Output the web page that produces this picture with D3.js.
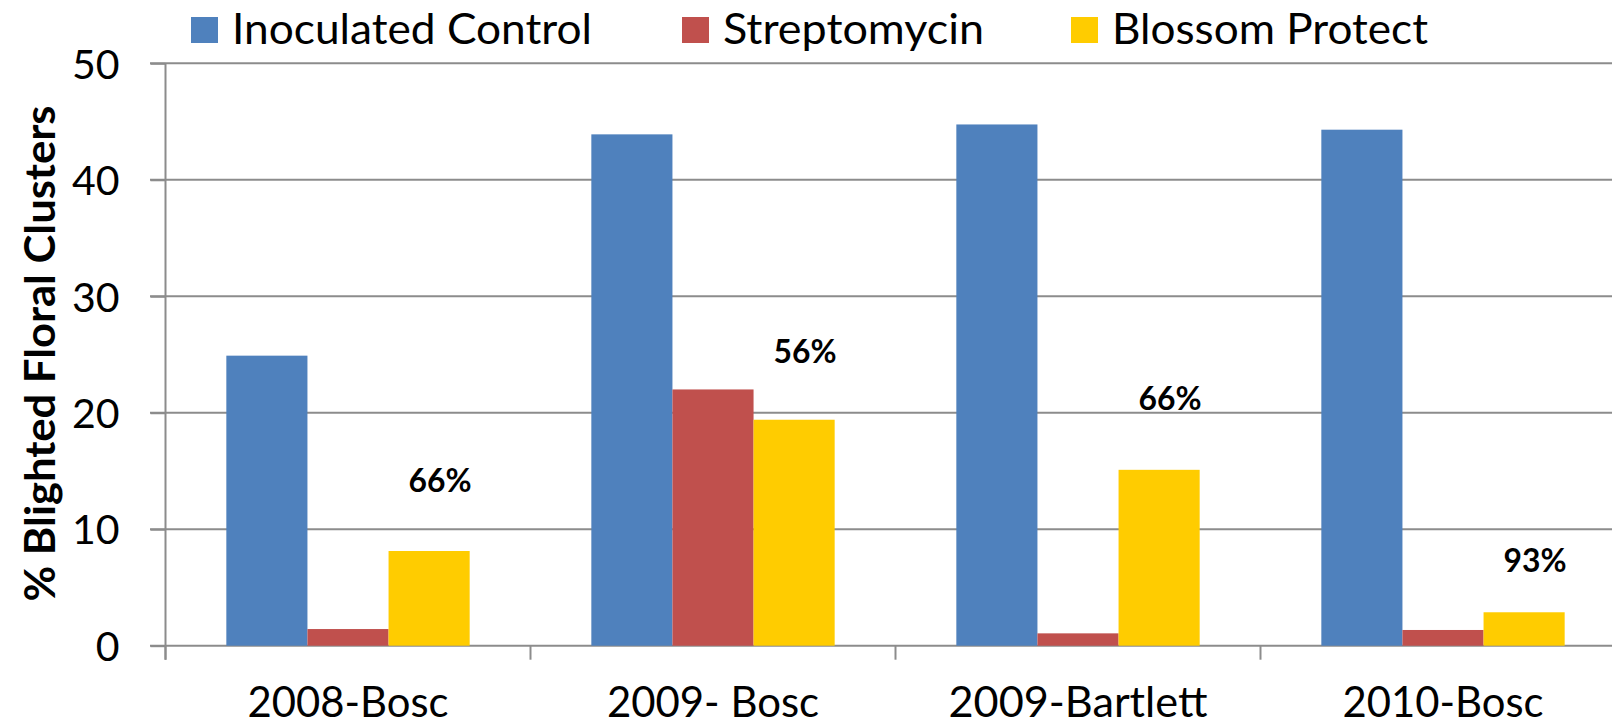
<!DOCTYPE html>
<html>
<head>
<meta charset="utf-8">
<script src="https://cdn.jsdelivr.net/npm/d3@7"></script>
<style>
  html, body { margin: 0; padding: 0; background: #fff; }
  svg { display: block; }
  text { font-family: Lato, "Open Sans", "Liberation Sans", sans-serif; fill: #000; }
</style>
</head>
<body>
<svg id="chart" width="1612" height="728"></svg>
<script>
// ---- data ----
const categories = ["2008-Bosc", "2009- Bosc", "2009-Bartlett", "2010-Bosc"];
const seriesNames = ["Inoculated Control", "Streptomycin", "Blossom Protect"];
const inoculatedControl = [24.9, 43.9, 44.75, 44.3];
const streptomycin = [1.43, 22.0, 1.06, 1.35];
const blossomProtect = [8.13, 19.4, 15.1, 2.87];
const reductionLabels = ["66%", "56%", "66%", "93%"];
const reductionLabelLevel = [13.2, 24.3, 20.2, 6.3]; // label baseline in axis units
const yTicks = [0, 10, 20, 30, 40, 50];

// ---- layout / style ----
const colors = ["#4F81BD", "#C0504D", "#FFCC00"];
const gridColor = "#8c8c8c";
const svg = d3.select("#chart");

const x0 = 165.5, bandW = 365;
const x = d3.scaleBand().domain(categories).range([x0, x0 + bandW * categories.length]).paddingInner(0).paddingOuter(0);
const xs = d3.scaleBand().domain(seriesNames).range([0, x.bandwidth()]).paddingInner(0).paddingOuter(0.75);
const y = d3.scaleLinear().domain([0, 50]).range([645.7, 63.3]);

const seriesValues = [inoculatedControl, streptomycin, blossomProtect];
const rows = [];
seriesValues.forEach((vals, si) => vals.forEach((v, ci) => rows.push({ s: seriesNames[si], si, c: categories[ci], v })));

// gridlines (include outward tick part)
svg.append("g").selectAll("line").data(yTicks).join("line")
  .attr("x1", 150).attr("x2", 1612)
  .attr("y1", d => y(d)).attr("y2", d => y(d))
  .attr("stroke", gridColor).attr("stroke-width", 2);

// bars
svg.append("g").selectAll("rect").data(rows).join("rect")
  .attr("x", d => x(d.c) + xs(d.s))
  .attr("width", xs.bandwidth())
  .attr("y", d => y(d.v))
  .attr("height", d => y(0) - y(d.v))
  .attr("fill", d => colors[d.si]);

// y axis
const yAxis = d3.axisLeft(y).tickValues(yTicks).tickSize(15).tickPadding(31).tickFormat(d3.format("d"));
const gy = svg.append("g").attr("transform", `translate(${x0},0)`).call(yAxis);
gy.select(".domain").remove();
gy.selectAll(".tick line").attr("stroke", gridColor).attr("stroke-width", 2);
gy.selectAll(".tick text").attr("font-family", "Lato, sans-serif").attr("font-size", 41).attr("dy", "0.36em").attr("fill", "#000");

// vertical axis line
svg.append("line").attr("x1", x0).attr("x2", x0).attr("y1", y(50)).attr("y2", y(0) + 14)
  .attr("stroke", gridColor).attr("stroke-width", 2);

// category boundary ticks
const bounds = categories.map(c => x(c)).concat([x.range()[1]]);
svg.append("g").selectAll("line").data(bounds).join("line")
  .attr("x1", d => d).attr("x2", d => d).attr("y1", y(0)).attr("y2", y(0) + 14)
  .attr("stroke", gridColor).attr("stroke-width", 2);

// category labels
const catWidths = { "2008-Bosc": 201, "2009- Bosc": 212, "2009-Bartlett": 259, "2010-Bosc": 201 };
svg.append("g").selectAll("text").data(categories).join("text")
  .attr("x", d => x(d) + x.bandwidth() / 2)
  .attr("y", 716.7)
  .attr("text-anchor", "middle")
  .attr("font-size", 42)
  .attr("textLength", d => catWidths[d])
  .attr("lengthAdjust", "spacingAndGlyphs")
  .text(d => d);

// reduction labels above Blossom Protect bars
svg.append("g").selectAll("text").data(categories).join("text")
  .attr("x", (d, i) => x(d) + xs("Blossom Protect") + xs.bandwidth() / 2 + 11)
  .attr("y", (d, i) => y(reductionLabelLevel[i]))
  .attr("text-anchor", "middle")
  .attr("font-size", 32.5)
  .attr("font-weight", "bold")
  .attr("textLength", 63)
  .attr("lengthAdjust", "spacingAndGlyphs")
  .text((d, i) => reductionLabels[i]);

// y-axis title
svg.append("text")
  .attr("transform", `translate(55, 353.5) rotate(-90)`)
  .attr("text-anchor", "middle")
  .attr("font-size", 42.5)
  .attr("font-weight", "bold")
  .attr("textLength", 496)
  .attr("lengthAdjust", "spacingAndGlyphs")
  .text("% Blighted Floral Clusters");

// legend
const legendX = [191, 682, 1071];
const legendW = [360, 261, 316];
const lg = svg.append("g").selectAll("g").data(seriesNames).join("g")
  .attr("transform", (d, i) => `translate(${legendX[i]},0)`);
lg.append("rect").attr("x", 0).attr("y", 17).attr("width", 27).attr("height", 26)
  .attr("fill", (d, i) => colors[i]);
lg.append("text").attr("x", 41).attr("y", 43.5)
  .attr("font-size", 42)
  .attr("textLength", (d, i) => legendW[i])
  .attr("lengthAdjust", "spacingAndGlyphs")
  .text(d => d);
</script>
</body>
</html>
